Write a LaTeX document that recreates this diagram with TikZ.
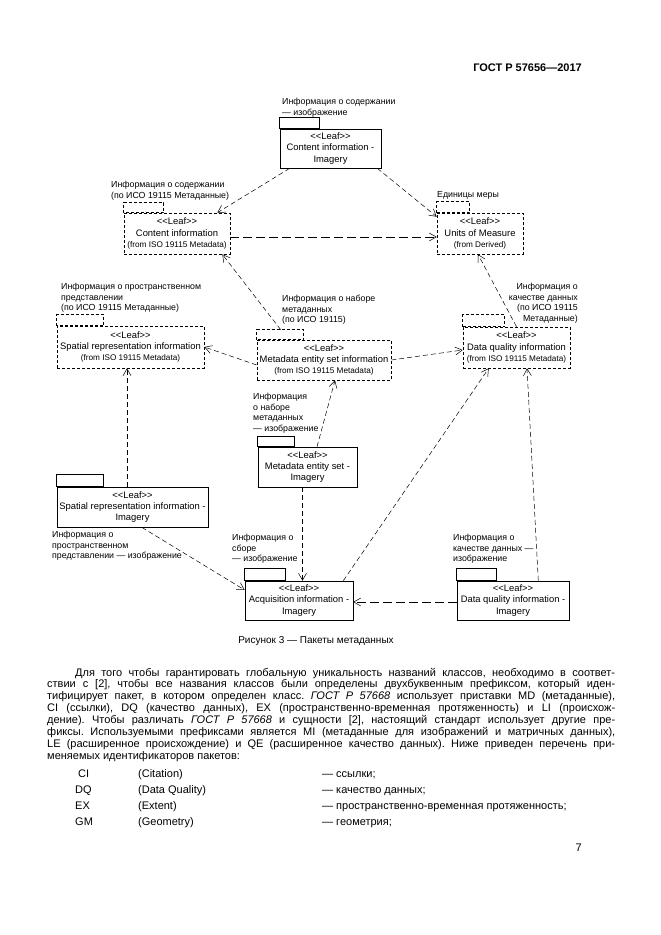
\documentclass[tikz,border=0pt]{standalone}
\usepackage{fontspec}
\setmainfont{Liberation Sans}
\usetikzlibrary{arrows.meta,calc}
\newcommand\lf{<\kern0pt<Leaf>\kern0pt>}
\newcommand\fromiso{{\fontsize{8.2}{10}\selectfont(from ISO 19115 Metadata)}}
\newcommand\pkgtab[4]{\draw[#4] (#1.north west) rectangle ($(#1.north west)+(#2,-#3)$);}
\frenchspacing
\begin{document}
\begin{tikzpicture}[x=1pt,y=-1pt,
  pkg/.style={draw, line width=0.6pt, inner sep=0pt, align=center, font=\fontsize{9.4}{11.2}\selectfont},
  dpkg/.style={pkg, dash pattern=on 3pt off 2pt},
  solidtab/.style={line width=0.6pt},
  dashtab/.style={line width=0.6pt, dash pattern=on 3pt off 2pt},
  lbl/.style={inner sep=0pt, align=left, anchor=north west, font=\fontsize{8.8}{10.5}\selectfont},
  dep/.style={line width=0.5pt, dash pattern=on 5pt off 3pt, -{Straight Barb[length=7pt,width=8pt]}},
  ldep/.style={dep, dash pattern=on 9pt off 4pt},
  body/.style={inner sep=0pt, anchor=base west, font=\fontsize{11}{12}\selectfont}]
\path[use as bounding box, fill=white] (0,0) rectangle (661,935);

% header
\node[inner sep=0pt, anchor=base east, font=\bfseries\fontsize{11}{13}\selectfont] (hdr) at (582,71) {ГОСТ Р 57656—2017};

% packages
\node[pkg, minimum width=101pt, minimum height=39pt] (cii) at (330.5,148.5) {\lf\\Content information -\\Imagery};
\pkgtab{cii}{40}{11}{solidtab}
\node[dpkg, minimum width=106pt, minimum height=41pt] (ci) at (177,233.5) {\lf\\Content information\\\fromiso};
\pkgtab{ci}{40}{10}{dashtab}
\node[dpkg, minimum width=86pt, minimum height=41pt] (uom) at (480,233.5) {\lf\\Units of Measure\\{\fontsize{8.2}{10}\selectfont(from Derived)}};
\pkgtab{uom}{33}{11}{dashtab}
\node[dpkg, minimum width=147pt, minimum height=42pt] (sri) at (130.5,347) {\lf\\Spatial representation information\\\fromiso};
\pkgtab{sri}{47}{11}{dashtab}
\node[dpkg, minimum width=134pt, minimum height=40pt] (mesi) at (324,360) {\lf\\Metadata entity set information\\\fromiso};
\pkgtab{mesi}{47}{10}{dashtab}
\node[dpkg, minimum width=107pt, minimum height=41pt] (dqi) at (516.5,347.5) {\lf\\Data quality information\\\fromiso};
\pkgtab{dqi}{42}{12}{dashtab}
\node[pkg, minimum width=99pt, minimum height=40pt] (mes) at (307.5,467) {\lf\\Metadata entity set -\\Imagery};
\pkgtab{mes}{37}{10}{solidtab}
\node[pkg, minimum width=151pt, minimum height=40pt] (srii) at (132.5,507) {\lf\\Spatial representation information -\\Imagery};
\pkgtab{srii}{47}{12}{solidtab}
\node[pkg, minimum width=108pt, minimum height=39pt] (aqi) at (299,600.5) {\lf\\Acquisition information -\\Imagery};
\pkgtab{aqi}{41}{12}{solidtab}
\node[pkg, minimum width=112pt, minimum height=39pt] (dqii) at (513,600.5) {\lf\\Data quality information -\\Imagery};
\pkgtab{dqii}{40}{12}{solidtab}

% labels
\node[lbl] (l1) at (282,98) {Информация о содержании\\— изображение};
\node[lbl] (l2) at (111,181) {Информация о содержании\\(по ИСО 19115 Метаданные)};
\node[lbl] (l3) at (437,191) {Единицы меры};
\node[lbl] (l4) at (61,283) {Информация о пространственном\\представлении\\(по ИСО 19115 Метаданные)};
\node[lbl] (l5) at (282,295) {Информация о наборе\\метаданных\\(по ИСО 19115)};
\node[lbl, anchor=north east, align=right] (l6) at (578,283) {Информация о\\качестве данных\\(по ИСО 19115\\Метаданные)};
\node[lbl] (l7) at (253,393) {Информация\\о наборе\\метаданных\\— изображение};
\node[lbl] (l8) at (52,531) {Информация о\\пространственном\\представлении — изображение};
\node[lbl] (l9) at (232,534) {Информация о\\сборе\\— изображение};
\node[lbl] (l10) at (453,534) {Информация о\\качестве данных —\\изображение};

% dependencies
\draw[dep] ($(cii.south west)+(10,0)$) -- ($(ci.north east)+(-13,0)$);
\draw[dep] ($(cii.south east)+(-4,0)$) -- ($(uom.north west)+(0,4)$);
\draw[ldep] ($(ci.east)+(0,3.5)$) -- ($(uom.west)+(0,3.5)$);
\draw[dep] ($(mesi.north west)+(24,-10)$) -- ($(ci.south east)+(-8,0)$);
\draw[dep] (dqi.north) -- ($(uom.south)+(-2,0)$);
\draw[dep] ($(mesi.west)+(0,5)$) -- (sri.east);
\draw[dep] (mesi.east) -- ($(dqi.west)+(0,2.5)$);
\draw[dep] ($(srii.north)+(-5.5,0)$) -- ($(sri.south)+(-3.5,0)$);
\draw[dep] ($(mes.north)+(9.5,0)$) -- ($(mesi.south)+(11,0)$);
\draw[dep] ($(mes.south)+(-5,0)$) -- ($(aqi.north)+(3.5,0)$);
\draw[dep] ($(srii.south west)+(85,0)$) -- ($(aqi.west)+(0,-10.5)$);
\draw[dep] ($(aqi.north east)+(-10,0)$) -- ($(dqi.south west)+(26,0)$);
\draw[dep] ($(dqii.north east)+(-31,0)$) -- ($(dqi.south)+(10.5,0)$);
\draw[ldep] ($(dqii.west)+(0,1.5)$) -- ($(aqi.east)+(0,1.5)$);

% caption
\node[inner sep=0pt, anchor=base, font=\fontsize{10}{12}\selectfont] (cap) at (316,643.5) {Рисунок 3 — Пакеты метаданных};

% paragraph
\node[body] (p1) at (75,676) {\makebox[540pt][s]{Для того чтобы гарантировать глобальную уникальность названий классов, необходимо в соответ-}};
\node[body] (p2) at (47,687.9) {\makebox[568pt][s]{ствии с [2], чтобы все названия классов были определены двухбуквенным префиксом, который иден-}};
\node[body] (p3) at (47,699.7) {\makebox[568pt][s]{тифицирует пакет, в котором определен класс. \textit{ГОСТ Р 57668} использует приставки MD (метаданные),}};
\node[body] (p4) at (47,711.6) {\makebox[568pt][s]{CI (ссылки), DQ (качество данных), EX (пространственно-временная протяженность) и LI (происхож-}};
\node[body] (p5) at (47,723.4) {\makebox[568pt][s]{дение). Чтобы различать \textit{ГОСТ Р 57668} и сущности [2], настоящий стандарт использует другие пре-}};
\node[body] (p6) at (47,735.3) {\makebox[568pt][s]{фиксы. Используемыми префиксами является MI (метаданные для изображений и матричных данных),}};
\node[body] (p7) at (47,747.2) {\makebox[568pt][s]{LE (расширенное происхождение) и QE (расширенное качество данных). Ниже приведен перечень при-}};
\node[body] (p8) at (47,759) {меняемых идентификаторов пакетов:};

% list
\node[body] (c1) at (78,777) {CI};
\node[body] (d1) at (138,777) {(Citation)};
\node[body] (e1) at (322,777) {— ссылки;};
\node[body] (c2) at (75,793) {DQ};
\node[body] (d2) at (138,793) {(Data Quality)};
\node[body] (e2) at (322,793) {— качество данных;};
\node[body] (c3) at (75,809) {EX};
\node[body] (d3) at (138,809) {(Extent)};
\node[body] (e3) at (322,809) {— пространственно-временная протяженность;};
\node[body] (c4) at (75,825) {GM};
\node[body] (d4) at (138,825) {(Geometry)};
\node[body] (e4) at (322,825) {— геометрия;};

% page number
\node[inner sep=0pt, anchor=base east, font=\fontsize{11}{12}\selectfont] (pg) at (582,851) {7};
\end{tikzpicture}
\end{document}
